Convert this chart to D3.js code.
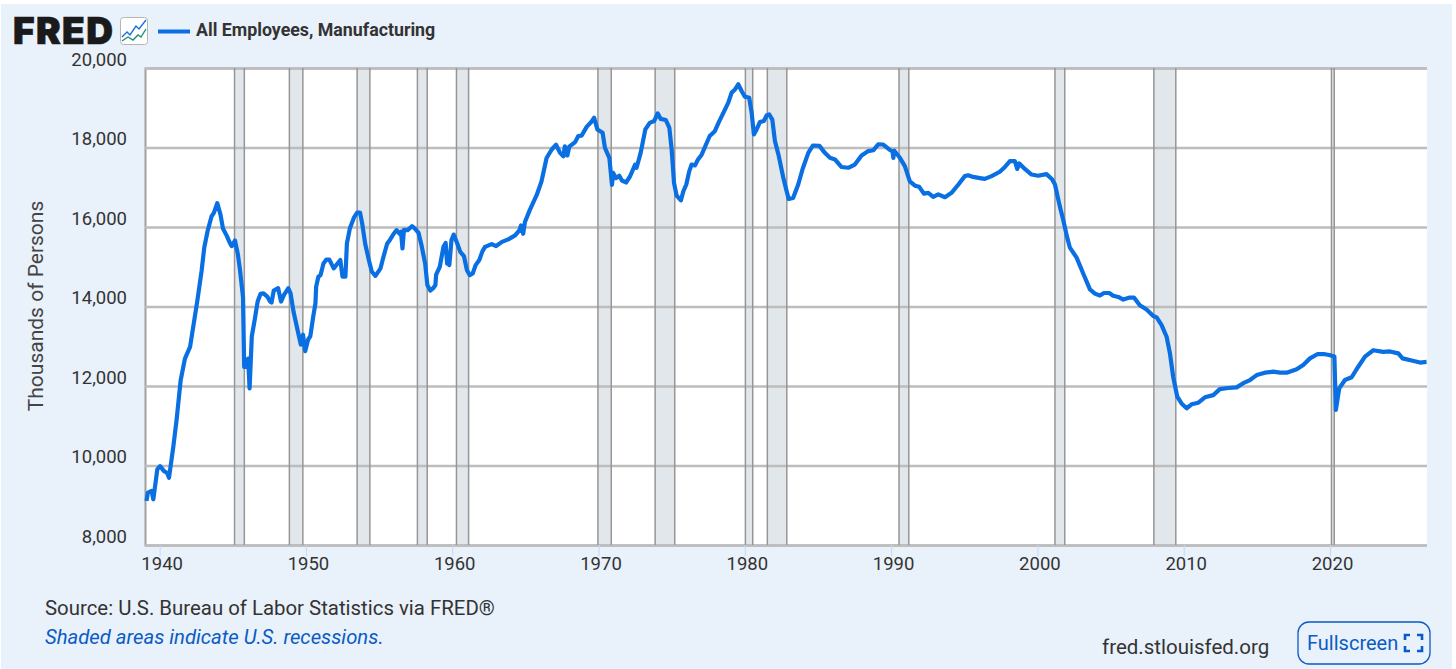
<!DOCTYPE html>
<html>
<head>
<meta charset="utf-8">
<script src="https://cdn.jsdelivr.net/npm/d3@7"></script>
<style>
html, body { margin: 0; padding: 0; background: #fff; }
svg { display: block; }
text { font-family: Roboto, sans-serif; }
</style>
</head>
<body>
<script>
// values: thousands of persons
var years = [
  1939.1,1939.2,1939.45,1939.57,1939.84,1940.03,1940.3,1940.5,1940.64,1940.94,
  1941.16,1941.44,1941.73,1942.08,1942.4,1942.58,1942.87,1943.05,1943.28,1943.55,
  1943.7,1943.94,1944.16,1944.33,1944.6,1944.8,1944.92,1945.15,1945.35,1945.5,
  1945.7,1945.78,1945.9,1946.05,1946.15,1946.3,1946.5,1946.7,1946.9,1947.1,
  1947.36,1947.55,1947.65,1947.8,1948.1,1948.3,1948.5,1948.8,1948.95,1949.15,
  1949.5,1949.65,1949.8,1949.95,1950.15,1950.3,1950.5,1950.65,1950.7,1950.85,
  1951.0,1951.2,1951.4,1951.6,1951.9,1952.35,1952.5,1952.7,1952.8,1953.0,
  1953.3,1953.5,1953.7,1953.85,1954.05,1954.3,1954.5,1954.75,1955.1,1955.3,
  1955.55,1955.75,1956.0,1956.2,1956.4,1956.5,1956.6,1956.7,1956.95,1957.25,
  1957.45,1957.7,1957.9,1958.15,1958.3,1958.5,1958.7,1958.85,1958.9,1959.15,
  1959.4,1959.55,1959.65,1959.72,1959.8,1959.95,1960.1,1960.35,1960.55,1960.8,
  1961.0,1961.2,1961.4,1961.6,1961.85,1962.05,1962.24,1962.7,1963.0,1963.4,
  1963.83,1964.3,1964.6,1964.7,1964.85,1964.97,1965.3,1965.77,1966.1,1966.45,
  1966.8,1967.1,1967.37,1967.6,1967.7,1967.87,1968.0,1968.4,1968.62,1968.85,
  1969.2,1969.5,1969.7,1969.92,1970.28,1970.44,1970.74,1970.92,1971.0,1971.2,
  1971.42,1971.6,1971.88,1972.15,1972.5,1972.6,1972.88,1973.2,1973.5,1973.8,
  1974.04,1974.25,1974.6,1974.84,1975.0,1975.16,1975.34,1975.63,1975.8,1976.0,
  1976.2,1976.36,1976.6,1976.8,1977.05,1977.4,1977.6,1977.95,1978.2,1978.65,
  1978.87,1979.1,1979.33,1979.55,1979.78,1980.0,1980.3,1980.47,1980.62,1980.8,
  1981.03,1981.3,1981.5,1981.67,1981.88,1982.06,1982.3,1982.63,1982.86,1983.0,
  1983.3,1983.65,1983.95,1984.34,1984.65,1985.1,1985.47,1985.82,1986.16,1986.6,
  1987.07,1987.52,1987.98,1988.44,1988.78,1989.12,1989.46,1989.87,1990.1,1990.15,
  1990.22,1990.6,1990.94,1991.28,1991.63,1991.92,1992.24,1992.54,1992.88,1993.22,
  1993.68,1994.13,1994.6,1995.04,1995.27,1995.6,1996.07,1996.4,1996.87,1997.43,
  1997.78,1998.12,1998.46,1998.62,1998.76,1999.14,1999.6,2000.05,2000.62,2001.0,
  2001.2,2001.53,2001.77,2002.0,2002.22,2002.68,2003.13,2003.59,2003.93,2004.27,
  2004.55,2004.91,2005.18,2005.53,2005.87,2006.32,2006.6,2007.0,2007.46,2007.92,
  2008.15,2008.49,2008.83,2009.06,2009.28,2009.56,2009.85,2010.2,2010.54,2011.0,
  2011.45,2012.02,2012.47,2013.05,2013.62,2014.07,2014.53,2014.99,2015.55,2016.12,
  2016.58,2017.04,2017.72,2018.17,2018.63,2019.13,2019.65,2019.95,2020.3,2020.4,
  2020.63,2021.02,2021.48,2021.93,2022.39,2022.96,2023.64,2024.1,2024.67,2024.96,
  2025.58,2026.15,2026.6
];
var employees = [
  9108,9317,9358,9150,9900,9983,9858,9817,9692,10483,
  11150,12150,12690,12982,13730,14150,14900,15480,15900,16270,
  16350,16600,16310,15960,15770,15600,15520,15660,15310,14900,
  14230,12480,12480,12690,11940,13250,13670,14125,14320,14330,
  14250,14125,14100,14400,14460,14125,14290,14460,14330,13875,
  13290,13040,13290,12875,13170,13250,13750,14080,14500,14750,
  14790,15080,15180,15180,14960,15170,14750,14750,15580,15960,
  16250,16360,16360,16080,15580,15170,14880,14770,14960,15250,
  15580,15680,15830,15920,15830,15880,15460,15930,15920,16020,
  15960,15850,15540,15080,14540,14400,14460,14540,14800,15000,
  15500,15600,15080,15200,15040,15670,15810,15580,15375,15270,
  14920,14790,14830,15040,15170,15375,15500,15570,15520,15625,
  15690,15790,15920,16040,15830,16125,16425,16800,17145,17735,
  17950,18070,17865,17780,18030,17800,18020,18135,18290,18300,
  18525,18640,18750,18455,18370,17990,17740,17060,17360,17230,
  17290,17170,17120,17270,17570,17490,17865,18455,18620,18665,
  18860,18720,18690,18500,17950,17110,16790,16670,16900,17070,
  17400,17570,17550,17700,17820,18120,18290,18410,18620,18960,
  19130,19380,19460,19590,19420,19280,19250,18870,18330,18450,
  18640,18665,18810,18830,18700,18160,17820,17240,16900,16705,
  16730,17070,17460,17865,18050,18040,17865,17740,17700,17510,
  17490,17570,17800,17910,17930,18080,18075,17950,17900,17740,
  17920,17740,17530,17150,17040,17010,16840,16860,16760,16820,
  16750,16860,17070,17280,17300,17260,17230,17210,17280,17390,
  17510,17655,17660,17460,17600,17460,17320,17290,17330,17200,
  17070,16520,16170,15790,15480,15230,14830,14430,14325,14275,
  14340,14340,14270,14240,14175,14225,14225,14030,13925,13760,
  13725,13530,13240,12820,12230,11730,11560,11440,11540,11580,
  11715,11770,11920,11950,11965,12070,12150,12275,12335,12360,
  12335,12335,12420,12530,12695,12800,12800,12780,12740,11400,
  11940,12150,12220,12485,12740,12900,12860,12870,12820,12695,
  12640,12590,12605
];

// NBER recessions, decimal years
var recessionStart = [1945.12,1948.87,1953.5,1957.62,1960.29,1969.96,1973.87,1980.04,1981.54,1990.54,2001.2,2007.96,2020.1];
var recessionEnd   = [1945.79,1949.79,1954.37,1958.29,1961.12,1970.87,1975.21,1980.54,1982.87,1991.21,2001.87,2009.46,2020.29];

var yTicks = [8000,10000,12000,14000,16000,18000,20000];
var xTicks = [1940,1950,1960,1970,1980,1990,2000,2010,2020];

var seriesName = "All Employees, Manufacturing";
var yLabel = "Thousands of Persons";
var sourceLine = "Source: U.S. Bureau of Labor Statistics via FRED\u00AE";
var noteLine = "Shaded areas indicate U.S. recessions.";
var siteLine = "fred.stlouisfed.org";

var width = 1456, height = 669;
var margin = {top: 68, right: 29, bottom: 124, left: 145};

var xScale = d3.scaleLinear()
    .domain([1939.0, 2026.63])
    .range([margin.left, width - margin.right]);

var yScale = d3.scaleLinear()
    .domain([8000, 20000])
    .range([height - margin.bottom, margin.top]);

var svg = d3.select("body").append("svg")
    .attr("width", width)
    .attr("height", height);

// page panel
svg.append("rect")
   .attr("x", 1).attr("y", 4)
   .attr("width", 1451).attr("height", 665)
   .attr("fill", "#e9f1fb");

// plot area
svg.append("rect")
   .attr("x", margin.left).attr("y", margin.top)
   .attr("width", width - margin.left - margin.right)
   .attr("height", height - margin.top - margin.bottom)
   .attr("fill", "#fff");

// recession bands
svg.append("g").selectAll("rect")
    .data(d3.range(recessionStart.length))
    .join("rect")
    .attr("x", function(i) { return xScale(recessionStart[i]); })
    .attr("y", margin.top)
    .attr("width", function(i) { return xScale(recessionEnd[i]) - xScale(recessionStart[i]); })
    .attr("height", height - margin.top - margin.bottom)
    .attr("fill", "#e2e7eb");

// Y axis with gridlines
var yAxis = svg.append("g")
    .attr("transform", `translate(${margin.left}, 0)`)
    .call(d3.axisLeft(yScale)
      .tickValues(yTicks)
      .tickSize(-(width - margin.left - margin.right))
      .tickPadding(18)
      .tickFormat(d3.format(",")));
yAxis.select(".domain").attr("stroke", "#a0a0a0").attr("stroke-width", 2);
yAxis.selectAll("line").attr("stroke", "#bdbdbd").attr("stroke-width", 2.4);
yAxis.selectAll("text")
    .attr("dy", "-0.14em")
    .style("font-size", "18.5px")
    .style("font-family", "Roboto, sans-serif")
    .attr("fill", "#333");

// recession edges sit on top of the gridlines
[recessionStart, recessionEnd].forEach(function(edge) {
  svg.append("g").selectAll("line")
      .data(d3.range(edge.length))
      .join("line")
      .attr("x1", function(i) { return xScale(edge[i]); })
      .attr("x2", function(i) { return xScale(edge[i]); })
      .attr("y1", margin.top)
      .attr("y2", height - margin.bottom)
      .attr("stroke", "#969696")
      .attr("stroke-width", 1.5);
});

// X axis
var xAxis = svg.append("g")
    .attr("transform", `translate(0, ${height - margin.bottom})`)
    .call(d3.axisBottom(xScale)
      .tickValues(xTicks)
      .tickSize(11)
      .tickPadding(1)
      .tickFormat(d3.format("d")));
xAxis.select(".domain").remove();
xAxis.selectAll("line").attr("stroke", "#ccd6eb").attr("stroke-width", 1);
xAxis.selectAll("text")
    .attr("dx", 2)
    .style("font-size", "18.5px")
    .style("font-family", "Roboto, sans-serif")
    .attr("fill", "#333");

// the series
var line = d3.line()
    .x(function(d) { return xScale(years[d]); })
    .y(function(d) { return yScale(employees[d]); });

svg.append("path")
   .attr("d", line(d3.range(years.length)))
   .attr("fill", "none")
   .attr("stroke", "#0a6fe3")
   .attr("stroke-width", 4.2)
   .attr("stroke-linejoin", "round");

// Y label
svg.append("text")
   .attr("transform", "rotate(-90)")
   .attr("x", -306)
   .attr("y", 43)
   .style("text-anchor", "middle")
   .style("font-size", "21px")
   .attr("fill", "#444")
   .text(yLabel);

// logo and header
svg.append("text")
   .attr("x", 13).attr("y", 44)
   .style("font-family", "Inter, sans-serif")
   .style("font-weight", 900)
   .style("font-size", "37px")
   .style("letter-spacing", "1.4px")
   .attr("fill", "#1a1a1a")
   .attr("stroke", "#1a1a1a")
   .attr("stroke-width", 0.7)
   .text("FRED");

svg.append("rect")
   .attr("x", 120.5).attr("y", 17.5)
   .attr("width", 27).attr("height", 27)
   .attr("rx", 3)
   .attr("fill", "#fff")
   .attr("stroke", "#b5b5b5");
svg.append("path")
   .attr("d", "M122 37L127 32L130 35L136 26L139 29L146 20")
   .attr("fill", "none").attr("stroke", "#1a6fd8").attr("stroke-width", 1.4);
svg.append("path")
   .attr("d", "M122 41L128 37L133 40L138 35L141 37L146 29")
   .attr("fill", "none").attr("stroke", "#1d8f7a").attr("stroke-width", 1.4);

svg.append("line")
   .attr("x1", 158).attr("x2", 190)
   .attr("y1", 31.5).attr("y2", 31.5)
   .attr("stroke", "#0a6fe3").attr("stroke-width", 4);

svg.append("text")
   .attr("x", 196).attr("y", 36)
   .style("font-size", "17.8px")
   .style("font-weight", 700)
   .attr("fill", "#333")
   .text(seriesName);

// footer
svg.append("text")
   .attr("x", 45).attr("y", 615)
   .style("font-size", "20.4px")
   .attr("fill", "#333")
   .text(sourceLine);

svg.append("text")
   .attr("x", 45).attr("y", 644)
   .style("font-size", "20.3px")
   .style("font-style", "italic")
   .attr("fill", "#0a5bc4")
   .text(noteLine);

svg.append("text")
   .attr("x", 1102).attr("y", 654)
   .style("font-size", "20.5px")
   .attr("fill", "#333")
   .text(siteLine);

// fullscreen button
svg.append("rect")
   .attr("x", 1298).attr("y", 622)
   .attr("width", 132).attr("height", 42)
   .attr("rx", 11)
   .attr("fill", "none")
   .attr("stroke", "#0a5bc4")
   .attr("stroke-width", 1.3);
svg.append("text")
   .attr("x", 1307).attr("y", 650)
   .style("font-size", "20px")
   .attr("fill", "#0a5bc4")
   .text("Fullscreen");
svg.append("path")
   .attr("d", "M1405 640v-5h5 M1417 635h5v5 M1422 646v5h-5 M1410 651h-5v-5")
   .attr("fill", "none")
   .attr("stroke", "#0a5bc4")
   .attr("stroke-width", 2.6);
</script>
</body>
</html>
